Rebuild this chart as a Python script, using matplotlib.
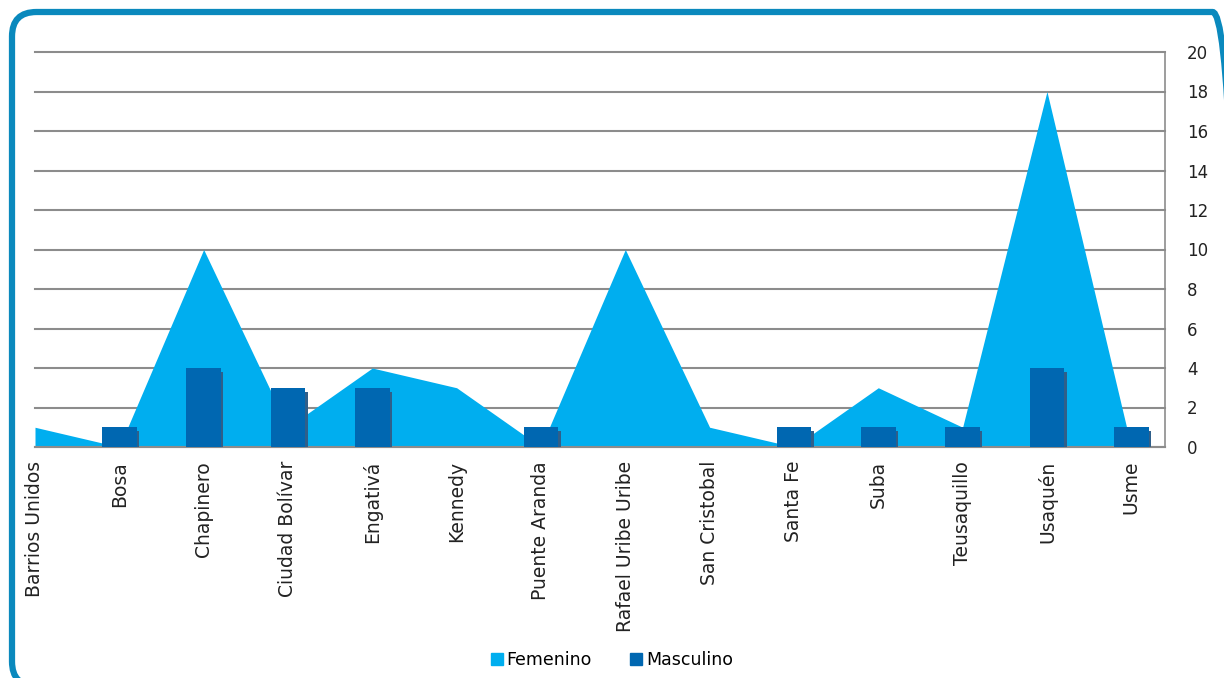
import matplotlib.pyplot as plt
from matplotlib.patches import FancyBboxPatch, Patch
import numpy as np

plt.rcParams['font.family'] = ['DejaVu Sans']

localidades = ['Barrios Unidos', 'Bosa', 'Chapinero', 'Ciudad Bolívar', 'Engativá',
               'Kennedy', 'Puente Aranda', 'Rafael Uribe Uribe', 'San Cristobal',
               'Santa Fe', 'Suba', 'Teusaquillo', 'Usaquén', 'Usme']
femenino = [1, 0, 10, 1, 4, 3, 0, 10, 1, 0, 3, 1, 18, 0]
masculino = [0, 1, 4, 3, 3, 0, 1, 0, 0, 1, 1, 1, 4, 1]

c_fem = '#00aeef'
c_mas = '#0067b1'
c_grid = '#8c8c8c'

fig = plt.figure(figsize=(12.24, 6.78), dpi=100)
ax = fig.add_axes([35/1224, 1 - 447/678, 1130/1224, 395/678])

x = np.arange(len(localidades))
ax.fill_between(x, femenino, 0, color=c_fem, linewidth=0, zorder=2)

# sombra de las barras
ax.bar(x + 0.03, masculino, width=0.41, bottom=-0.2, color='#2f5f8a', zorder=3)
ax.bar(x, masculino, width=0.41, color=c_mas, zorder=4)

ax.set_xlim(0, 13.4)
ax.set_ylim(0, 20)
ax.set_yticks(range(0, 21, 2))
ax.yaxis.tick_right()
ax.tick_params(axis='y', length=0, pad=16, labelsize=12, colors='#222222')
ax.grid(axis='y', color=c_grid, linewidth=1.5, zorder=1)
ax.set_axisbelow(True)
for gl in ax.get_ygridlines():
    gl.set_clip_on(False)

ax.set_xticks(x)
ax.set_xticklabels(localidades, rotation=90, fontsize=13.5, color='#222222')
ax.tick_params(axis='x', length=0, pad=10)

for s in ['top', 'left']:
    ax.spines[s].set_visible(False)
ax.spines['right'].set_color(c_grid)
ax.spines['right'].set_linewidth(1.2)
ax.spines['bottom'].set_color(c_grid)
ax.spines['bottom'].set_linewidth(1.5)

handles = [Patch(color=c_fem, label='Femenino'), Patch(color=c_mas, label='Masculino')]
fig.legend(handles=handles, loc='center', bbox_to_anchor=(612/1224, 1 - 660/678),
           ncol=2, frameon=False, fontsize=12.5, handlelength=0.7, handleheight=0.7,
           handletextpad=0.2, columnspacing=2.2)

# marco redondeado (se sale por la derecha y por abajo)
borde = FancyBboxPatch((12/1224, -8/678), 1225/1224, 674/678,
                       boxstyle='round,pad=0,rounding_size=0.02',
                       transform=fig.transFigure, fill=False,
                       edgecolor='#0a89bd', linewidth=4.5, mutation_aspect=1224/678)
fig.patches.append(borde)

fig.savefig('out.png', dpi=100)
